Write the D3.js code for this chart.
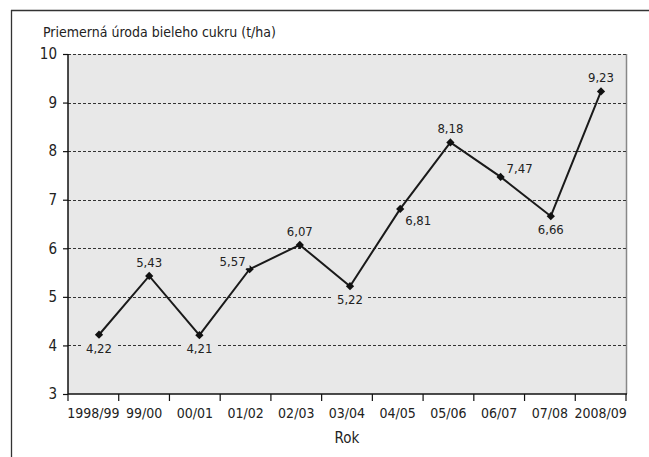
<!DOCTYPE html>
<html><head><meta charset="utf-8">
<script src="https://cdn.jsdelivr.net/npm/d3@7"></script>
<style>
body{margin:0;background:#fff;}
svg text{font-family:"DejaVu Sans Condensed","Liberation Sans Narrow",sans-serif;fill:#222;}
</style></head>
<body><svg id="c" width="649" height="457"></svg>
<script>
const categories = ["1998/99","99/00","00/01","01/02","02/03","03/04","04/05","05/06","06/07","07/08","2008/09"];
const values = [4.22,5.43,4.21,5.57,6.07,5.22,6.81,8.18,7.47,6.66,9.23];
const valueLabels = ["4,22","5,43","4,21","5,57","6,07","5,22","6,81","8,18","7,47","6,66","9,23"];
const yTicks = [3,4,5,6,7,8,9,10];
const labelSide = ["below","above","below","left","above","below","right-below","above","right-above","below","above"];

const svg = d3.select("#c");
const L = 68, R = 626, T = 54, B = 394;

// outer frame (top & left)
svg.append("line").attr("x1",11).attr("x2",649).attr("y1",10.5).attr("y2",10.5).attr("stroke","#333").attr("stroke-width",1.3);
svg.append("line").attr("x1",11.5).attr("x2",11.5).attr("y1",10).attr("y2",457).attr("stroke","#333").attr("stroke-width",1.3);

svg.append("text").attr("x",43).attr("y",37).attr("font-size",14).text("Priemerná úroda bieleho cukru (t/ha)");

const y = d3.scaleLinear().domain([3,10]).range([B,T]);
const xb = d3.scaleBand().domain(categories).range([L,R]);
const xp = d3.scalePoint().domain(categories).range([99,601]);

svg.append("rect").attr("x",L).attr("y",T).attr("width",R-L).attr("height",B-T).attr("fill","#e8e8e8");
// right border
svg.append("line").attr("x1",R+0.5).attr("x2",R+0.5).attr("y1",T).attr("y2",B).attr("stroke","#888").attr("stroke-width",1.5);

// gridlines
svg.append("g").selectAll("line").data(yTicks.filter(d=>d>3)).join("line")
  .attr("x1",L).attr("x2",R).attr("y1",d=>Math.round(y(d))+0.5).attr("y2",d=>Math.round(y(d))+0.5)
  .attr("stroke","#333").attr("stroke-dasharray","3,2").attr("stroke-width",1);

// y axis
const ya = d3.axisLeft(y).tickValues(yTicks).tickSize(5).tickPadding(6).tickFormat(d=>d);
const gy = svg.append("g").attr("transform",`translate(${L},0)`).call(ya);
gy.select(".domain").attr("stroke","#111").attr("stroke-width",1.5).attr("d",`M0,${T}V${B}`);
gy.selectAll(".tick line").attr("stroke","#111").attr("stroke-width",1.2);
gy.selectAll("text").attr("font-size",15).attr("fill","#222").attr("font-family",null);

// x axis
const gx = svg.append("g").attr("transform",`translate(0,${B})`);
gx.append("line").attr("x1",L).attr("x2",R+1).attr("y1",0).attr("y2",0).attr("stroke","#111").attr("stroke-width",1.5);
const bounds = categories.map(c=>xb(c)).concat([R]);
gx.selectAll(".tk").data(bounds).join("line").attr("class","tk")
  .attr("x1",d=>d).attr("x2",d=>d).attr("y1",0).attr("y2",7).attr("stroke","#111").attr("stroke-width",1.2);
gx.selectAll(".tl").data(categories).join("text").attr("class","tl")
  .attr("x",d=>xb(d)+xb.bandwidth()/2).attr("y",24).attr("text-anchor","middle").attr("font-size",14).text(d=>d);

svg.append("text").attr("x",(L+R)/2).attr("y",443).attr("text-anchor","middle").attr("font-size",15).text("Rok");

// line
const data = categories.map((c,i)=>({c, v:values[i], lab:valueLabels[i], side:labelSide[i]}));
svg.append("path").datum(data)
  .attr("d",d3.line().x(d=>xp(d.c)).y(d=>y(d.v)))
  .attr("fill","none").attr("stroke","#1a1a1a").attr("stroke-width",2);
svg.append("g").selectAll("path").data(data).join("path")
  .attr("d",d3.symbol().type(d3.symbolSquare).size(34))
  .attr("transform",d=>`translate(${xp(d.c)},${y(d.v)}) rotate(45)`).attr("fill","#111");

// labels
const lg = svg.append("g");
data.forEach(d=>{
  const px = xp(d.c), py = y(d.v);
  let tx=px, ty=py, anchor="middle";
  if(d.side==="below"){ty=py+18;}
  else if(d.side==="above"){ty=py-9;}
  else if(d.side==="left"){tx=px-4; ty=py-3; anchor="end";}
  else if(d.side==="right-below"){tx=px+5; ty=py+16; anchor="start";}
  else if(d.side==="right-above"){tx=px+6; ty=py-4; anchor="start";}
  const t = lg.append("text").attr("x",tx).attr("y",ty).attr("text-anchor",anchor).attr("font-size",13).text(d.lab);
  const bb = t.node().getBBox();
  lg.insert("rect","text").attr("x",bb.x-4).attr("y",bb.y+1).attr("width",bb.width+8).attr("height",bb.height-2).attr("fill","#e8e8e8");
});
</script></body></html>
